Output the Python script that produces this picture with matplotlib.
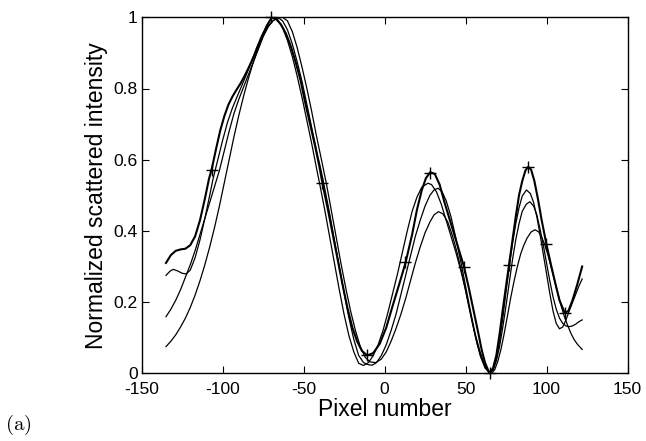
import matplotlib
matplotlib.use("Agg")
import matplotlib.pyplot as plt

plt.rcParams['font.family'] = ['Liberation Sans', 'DejaVu Sans']
plt.rcParams['axes.unicode_minus'] = False
plt.rcParams['mathtext.fontset'] = 'cm'

# Curve A (thick, carries the + markers)
xa = [-135, -132, -129, -126, -123, -120, -117, -114, -111, -108.5, -106.6, -104, -101.5, -99, -96.5, -94, -91.5,
      -89, -86.5, -84, -81, -78, -75, -72.5, -70, -69, -67, -64, -61, -58, -55, -52, -49, -46, -43, -40, -38.4,
      -35, -32, -29, -26, -23, -20, -17, -14, -10.7, -7, -3, 1, 5, 9, 12.9, 17, 20, 23, 25.5, 28.2, 31, 34, 37,
      40, 43, 46, 49, 52, 55, 58, 60, 62, 64, 65, 67, 69, 71, 73, 75, 77, 79, 81, 83, 85, 87, 88.7, 90.5, 92.5,
      94.8, 97, 99.9, 103, 105.4, 108, 111.2, 113.5, 116, 119, 122]
ya = [0.31, 0.332, 0.344, 0.348, 0.35, 0.36, 0.385, 0.43, 0.49, 0.545, 0.577, 0.632, 0.682, 0.722, 0.754, 0.777,
      0.796, 0.814, 0.835, 0.858, 0.888, 0.92, 0.952, 0.978, 0.997, 1.0, 0.995, 0.98, 0.955, 0.92, 0.875, 0.825,
      0.76, 0.70, 0.64, 0.575, 0.534, 0.46, 0.39, 0.32, 0.25, 0.185, 0.13, 0.09, 0.063, 0.05, 0.057, 0.083, 0.128,
      0.19, 0.25, 0.31, 0.39, 0.46, 0.515, 0.548, 0.565, 0.56, 0.53, 0.48, 0.435, 0.39, 0.345, 0.30, 0.24, 0.175,
      0.11, 0.065, 0.03, 0.008, 0.0, 0.015, 0.05, 0.11, 0.18, 0.245, 0.31, 0.375, 0.44, 0.5, 0.54, 0.57, 0.58,
      0.572, 0.54, 0.487, 0.43, 0.363, 0.3, 0.253, 0.205, 0.17, 0.175, 0.205, 0.25, 0.30]

# Curve B
xb = [-135, -132.5, -130.5, -128, -125, -122.5, -120, -117, -114, -111, -108, -106, -103, -100, -97, -94, -91, -88,
      -85, -82, -79, -76, -73, -70.5, -68.5, -66, -63, -60, -57, -54, -51, -48, -45, -42, -40, -37, -34, -31, -28,
      -25, -22, -19, -16, -13, -10, -7, -4, -1, 2, 5, 8, 11, 14, 17, 20, 23, 26.8, 29, 32, 35, 38, 41, 44, 47, 50,
      53, 56, 59, 62, 64.5, 67, 69, 71, 73, 75, 77, 79, 81, 83, 85, 87.6, 90, 92, 94, 96, 98, 100, 102, 104, 106,
      108, 110, 112, 114, 117, 120, 122]
yb = [0.275, 0.287, 0.292, 0.288, 0.281, 0.279, 0.29, 0.325, 0.375, 0.435, 0.5, 0.545, 0.6, 0.655, 0.705, 0.745,
      0.778, 0.81, 0.843, 0.878, 0.915, 0.948, 0.975, 0.993, 1.0, 0.993, 0.97, 0.935, 0.89, 0.835, 0.775, 0.71,
      0.645, 0.575, 0.53, 0.46, 0.385, 0.31, 0.235, 0.165, 0.105, 0.06, 0.028, 0.022, 0.03, 0.05, 0.08, 0.12,
      0.17, 0.225, 0.28, 0.34, 0.4, 0.455, 0.495, 0.523, 0.534, 0.53, 0.51, 0.475, 0.43, 0.385, 0.34, 0.29,
      0.235, 0.17, 0.105, 0.05, 0.015, 0.003, 0.01, 0.04, 0.09, 0.155, 0.23, 0.3, 0.365, 0.42, 0.465, 0.498,
      0.515, 0.505, 0.48, 0.44, 0.39, 0.335, 0.28, 0.225, 0.175, 0.14, 0.125, 0.13, 0.15, 0.175, 0.21, 0.245,
      0.265]

# Curve C
xc = [-135, -132, -129, -126, -123, -120, -117, -114, -111, -108, -105, -102, -99, -96, -93, -90, -87, -84, -81,
      -78, -75, -72, -69, -66, -63, -60, -57, -54, -51, -48, -45, -42, -39, -37, -34, -31, -28, -25, -22, -19,
      -16, -13, -10, -7.6, -5, -2, 1, 4, 7, 10, 13, 16, 19, 22, 25, 28, 30.5, 33, 35.5, 38, 41, 44, 47, 50, 53,
      56, 59, 62, 64.5, 67, 69, 71, 73, 75, 77, 79, 81, 83, 85, 87.5, 89.7, 92, 94, 96, 98, 100, 102, 104, 106,
      108, 110, 112, 114, 116, 118, 120, 122]
yc = [0.159, 0.18, 0.205, 0.235, 0.27, 0.305, 0.345, 0.39, 0.435, 0.48, 0.525, 0.57, 0.625, 0.68, 0.73, 0.77,
      0.805, 0.84, 0.875, 0.91, 0.945, 0.972, 0.99, 1.0, 0.99, 0.965, 0.925, 0.875, 0.82, 0.755, 0.69, 0.625,
      0.565, 0.52, 0.45, 0.375, 0.3, 0.225, 0.155, 0.095, 0.05, 0.03, 0.024, 0.023, 0.03, 0.05, 0.08, 0.12,
      0.165, 0.22, 0.275, 0.33, 0.385, 0.43, 0.47, 0.5, 0.515, 0.52, 0.51, 0.485, 0.44, 0.38, 0.315, 0.245,
      0.175, 0.11, 0.06, 0.02, 0.003, 0.01, 0.035, 0.075, 0.13, 0.19, 0.255, 0.32, 0.375, 0.42, 0.455, 0.475,
      0.482, 0.47, 0.445, 0.405, 0.36, 0.31, 0.26, 0.215, 0.18, 0.155, 0.14, 0.133, 0.131, 0.133, 0.138, 0.145,
      0.15]

# Curve D
xd = [-135, -132, -129, -126, -123, -120, -117, -114, -111, -108, -105, -102, -99, -96, -93, -90, -87, -84, -81,
      -78, -75, -72, -69, -66, -63, -60, -57, -54, -51, -48, -45, -42, -39, -36, -33, -30, -27, -24, -21, -18,
      -15, -12, -9, -5.5, -2, 1, 4, 7, 10, 13, 16, 19, 22, 25, 28, 30.5, 33.3, 36, 39, 42, 45, 48, 51, 54, 57,
      60, 63, 66, 68, 70, 72, 74, 76, 78, 80, 82, 84, 86, 88, 90.5, 92.8, 95, 97, 99, 101, 103, 105, 107, 109,
      111, 113, 115, 117, 119, 122]
yd = [0.075, 0.09, 0.108, 0.13, 0.155, 0.185, 0.22, 0.26, 0.305, 0.355, 0.41, 0.47, 0.535, 0.6, 0.665, 0.725,
      0.78, 0.83, 0.875, 0.915, 0.95, 0.975, 0.99, 0.998, 1.0, 0.99, 0.96, 0.915, 0.86, 0.8, 0.735, 0.665, 0.6,
      0.534, 0.46, 0.385, 0.31, 0.24, 0.175, 0.12, 0.075, 0.045, 0.032, 0.03, 0.04, 0.06, 0.09, 0.125, 0.165,
      0.21, 0.26, 0.31, 0.355, 0.395, 0.425, 0.445, 0.454, 0.448, 0.425, 0.385, 0.335, 0.275, 0.21, 0.145,
      0.085, 0.04, 0.01, 0.0, 0.01, 0.035, 0.07, 0.115, 0.165, 0.215, 0.26, 0.3, 0.335, 0.36, 0.38, 0.397,
      0.403, 0.398, 0.383, 0.36, 0.33, 0.295, 0.26, 0.225, 0.19, 0.16, 0.135, 0.113, 0.095, 0.082, 0.067]

# '+' marker positions (on curve A)
xm = [-106.6, -70.1, -38.4, -10.7, 12.9, 28.2, 49.1, 65.1, 76.8, 88.7, 99.9, 111.2]
ym = [0.571, 1.0, 0.534, 0.051, 0.312, 0.564, 0.30, 0.0, 0.304, 0.579, 0.363, 0.170]

xticks = [-150, -100, -50, 0, 50, 100, 150]
yticks = [0, 0.2, 0.4, 0.6, 0.8, 1]
ytick_labels = ['0', '0.2', '0.4', '0.6', '0.8', '1']

fig = plt.figure(figsize=(6.46, 4.41), dpi=100)
ax = fig.add_axes([141.7 / 646, 1 - 373.3 / 441, (627.5 - 141.7) / 646, (373.3 - 17.3) / 441])

ax.plot(xd, yd, color='black', lw=0.9)
ax.plot(xc, yc, color='black', lw=0.9)
ax.plot(xb, yb, color='black', lw=0.9)
ax.plot(xa, ya, color='black', lw=1.5)
ax.plot(xm, ym, linestyle='none', marker='+', color='black', markersize=9, markeredgewidth=1.0, clip_on=False)

ax.set_xlim(-150, 150)
ax.set_ylim(0, 1)
ax.set_xticks(xticks)
ax.set_xticklabels([str(t) for t in xticks])
ax.set_yticks(yticks)
ax.set_yticklabels(ytick_labels)
ax.tick_params(direction='in', length=5, width=0.8, top=True, right=True, labelsize=12.6, pad=3)
ax.tick_params(axis='x', pad=6)
for s in ax.spines.values():
    s.set_linewidth(1.0)

ax.set_xlabel('Pixel number', fontsize=16.5, labelpad=1)
ax.set_ylabel('Normalized scattered intensity', fontsize=16.5, labelpad=4)

fig.text(5 / 646, 1 - 425 / 441, r'$\mathrm{(a)}$', fontsize=15, va='center', ha='left')

fig.savefig('out.png', dpi=100)
